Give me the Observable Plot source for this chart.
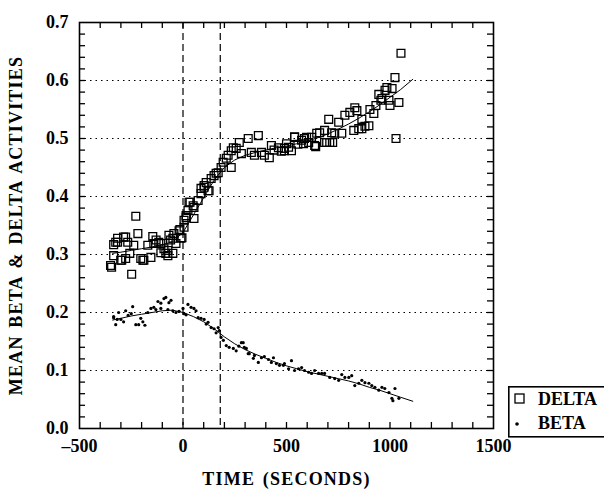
<!DOCTYPE html>
<html>
<head>
<meta charset="utf-8">
<script src="https://cdn.jsdelivr.net/npm/d3@7"></script>
<script src="https://cdn.jsdelivr.net/npm/@observablehq/plot@0.6"></script>
<style>
  html, body { margin: 0; padding: 0; background: white; overflow: hidden; }
  #wrap { position: relative; width: 604px; height: 490px; }
  #legend { position: absolute; left: 508px; top: 386px; }
  svg text { font-family: "Liberation Serif", "DejaVu Serif", serif; font-weight: bold; }
  [aria-label="x-axis label"] text, [aria-label="y-axis label"] text { letter-spacing: 1.2px; word-spacing: 2px; }
</style>
</head>
<body>
<div id="wrap"></div>
<script>
// Tick values
const xTickLabels = [-500, 0, 500, 1000, 1500];
const yTickLabels = [0, 0.1, 0.2, 0.3, 0.4, 0.5, 0.6, 0.7];
const xMinorTicks = [-400,-300,-200,-100,0,100,200,300,400,500,600,700,800,900,1000,1100,1200,1300,1400];
const yMinorTicks = [0.02,0.04,0.06,0.08,0.1,0.12,0.14,0.16,0.18,0.2,0.22,0.24,0.26,0.28,0.3,0.32,0.34,0.36,0.38,0.4,0.42,0.44,0.46,0.48,0.5,0.52,0.54,0.56,0.58,0.6,0.62,0.64,0.66,0.68];
const gridLevels = [0.1, 0.2, 0.3, 0.4, 0.5, 0.6];
const eventTimes = [0, 180];

// DELTA observations (time s, activity)
const deltaTime = [-350,-345,-335,-335,-325,-316,-316,-301,-296,-287,-277,-277,-267,-257,-248,-238,-228,-218,-204,-194,-189,-170,-155,-146,-141,-130,-117,-107,-107,-92,-83,-73,-73,-68,-60,-49,-49,-44,-34,-19,-15,-10,-5,
  5,5,15,15,24,29,34,49,53,53,73,87,87,102,102,112,121,126,136,150,160,170,184,194,209,218,233,233,243,257,272,282,315,330,345,364,379,393,417,427,440,461,475,490,490,500,510,524,539,539,555,573,582,587,597,607,621,636,641,646,660,684,684,694,704,709,718,723,733,752,767,782,806,825,830,840,849,864,864,879,898,903,922,932,946,956,961,976,985,995,1000,1010,1024,1029,1043,1053];
const deltaValue = [0.281,0.278,0.298,0.317,0.321,0.328,0.321,0.29,0.29,0.330,0.293,0.33,0.321,0.302,0.266,0.316,0.366,0.336,0.293,0.29,0.29,0.316,0.295,0.331,0.319,0.325,0.321,0.303,0.319,0.31,0.302,0.298,0.307,0.333,0.325,0.302,0.328,0.336,0.319,0.341,0.343,0.328,0.329,
  0.347,0.359,0.364,0.367,0.376,0.39,0.39,0.384,0.362,0.381,0.393,0.405,0.414,0.416,0.419,0.424,0.41,0.41,0.431,0.436,0.44,0.441,0.45,0.459,0.466,0.471,0.479,0.45,0.484,0.483,0.493,0.474,0.50,0.476,0.471,0.505,0.476,0.471,0.467,0.488,0.48,0.484,0.478,0.483,0.479,0.491,0.485,0.479,0.502,0.503,0.49,0.497,0.491,0.5,0.502,0.493,0.502,0.488,0.486,0.509,0.51,0.514,0.493,0.493,0.533,0.493,0.51,0.493,0.509,0.528,0.509,0.540,0.545,0.514,0.553,0.548,0.517,0.517,0.533,0.521,0.522,0.55,0.543,0.557,0.576,0.566,0.569,0.583,0.588,0.566,0.557,0.586,0.605,0.50,0.562,0.647];

// BETA observations
const betaTime = [-335,-335,-325,-318,-311,-300,-287,-277,-265,-250,-243,-228,-214,-204,-194,-184,-170,-155,-141,-131,-121,-107,-107,-92,-83,-73,-68,-58,-49,-34,-19,0,5,15,24,39,53,63,73,87,102,112,121,136,150,160,170,175,184,195,209,223,243,257,270,282,291,296,306,315,320,340,345,364,379,393,413,427,437,451,466,485,490,510,524,539,558,573,587,607,621,636,655,670,684,709,733,752,767,782,801,815,830,849,864,879,898,912,927,946,961,975,995,1009,1014,1024,1043];
const betaValue = [0.191,0.193,0.179,0.188,0.2,0.188,0.184,0.203,0.195,0.198,0.21,0.179,0.179,0.19,0.184,0.178,0.2,0.207,0.209,0.205,0.219,0.216,0.207,0.224,0.226,0.205,0.217,0.221,0.203,0.2,0.202,0.207,0.198,0.196,0.214,0.209,0.207,0.203,0.191,0.19,0.188,0.18,0.183,0.174,0.172,0.165,0.174,0.169,0.157,0.152,0.143,0.14,0.138,0.134,0.142,0.148,0.148,0.14,0.138,0.129,0.129,0.121,0.126,0.114,0.122,0.124,0.119,0.114,0.122,0.112,0.109,0.109,0.112,0.103,0.117,0.1,0.103,0.105,0.1,0.097,0.095,0.1,0.095,0.095,0.095,0.088,0.086,0.083,0.093,0.088,0.088,0.091,0.074,0.078,0.083,0.079,0.078,0.074,0.071,0.066,0.071,0.069,0.062,0.052,0.048,0.069,0.052];

// Smoothed fits
const fitTime = [-340,-300,-250,-200,-150,-100,-50,0,50,100,150,200,250,300,350,400,450,500,550,600,650,700,750,800,850,900,950,1000,1050,1110];
const deltaFit = [0.302,0.304,0.307,0.310,0.313,0.317,0.322,0.338,0.368,0.398,0.428,0.450,0.463,0.471,0.476,0.480,0.484,0.487,0.491,0.496,0.501,0.508,0.516,0.525,0.535,0.546,0.558,0.571,0.584,0.602];
const betaFit = [0.187,0.190,0.194,0.197,0.200,0.203,0.204,0.200,0.193,0.184,0.172,0.158,0.146,0.136,0.128,0.121,0.114,0.108,0.103,0.098,0.094,0.090,0.086,0.082,0.077,0.071,0.066,0.060,0.054,0.047];

const delta = deltaTime.map((t, i) => ({t, v: deltaValue[i]}));
const beta = betaTime.map((t, i) => ({t, v: betaValue[i]}));
const dFit = fitTime.map((t, i) => ({t, v: deltaFit[i]}));
const bFit = fitTime.map((t, i) => ({t, v: betaFit[i]}));

const frameH = 490 - 22 - 62;
const frameW = 604 - 79 - 111;

const chart = Plot.plot({
  width: 604, height: 490,
  marginLeft: 79, marginRight: 111, marginTop: 22, marginBottom: 62,
  x: {domain: [-500, 1500]},
  y: {domain: [0, 0.7]},
  style: {fontFamily: "Liberation Serif", fontWeight: "bold", fontSize: "18px", background: "white", color: "black", overflow: "visible"},
  marks: [
    Plot.ruleY(gridLevels, {stroke: "black", strokeWidth: 1.2, strokeDasharray: "1.5,4"}),
    Plot.ruleX(eventTimes, {stroke: "black", strokeWidth: 1.2, strokeDasharray: "7,4"}),
    Plot.tickX(xMinorTicks, {x: d => d, insetTop: frameH - 6, stroke: "black", strokeWidth: 1.3}),
    Plot.tickX(xMinorTicks, {x: d => d, insetBottom: frameH - 6, stroke: "black", strokeWidth: 1.3}),
    Plot.tickY(yMinorTicks, {y: d => d, insetRight: frameW - 6, stroke: "black", strokeWidth: 1.3}),
    Plot.tickY(yMinorTicks, {y: d => d, insetLeft: frameW - 6, stroke: "black", strokeWidth: 1.3}),
    Plot.frame({stroke: "black", strokeWidth: 1.6}),
    Plot.axisX({ticks: xTickLabels, tickSize: 0, tickPadding: 11, tickFormat: d => d < 0 ? "\u2013" + Math.abs(d) : String(d),
      label: "TIME (SECONDS)", labelAnchor: "center", labelOffset: 56, labelArrow: "none"}),
    Plot.axisY({ticks: yTickLabels, tickSize: 0, tickPadding: 11, tickFormat: ".1f",
      label: "MEAN BETA & DELTA ACTIVITIES", labelAnchor: "center", labelOffset: 70, labelArrow: "none"}),
    Plot.line(dFit, {x: "t", y: "v", stroke: "black", strokeWidth: 1}),
    Plot.line(bFit, {x: "t", y: "v", stroke: "black", strokeWidth: 1}),
    Plot.dot(delta, {x: "t", y: "v", symbol: "square", r: 4.4, stroke: "black", strokeWidth: 1.3, fill: "none"}),
    Plot.dot(beta, {x: "t", y: "v", r: 1.6, fill: "black", stroke: "none"})
  ]
});

const wrap = document.getElementById("wrap");
wrap.appendChild(chart);

// Legend
const legend = document.createElement("div");
legend.id = "legend";
legend.innerHTML = `<svg width="110" height="52" style="display:block;overflow:visible">
  <rect x="0.8" y="0.8" width="120" height="50" fill="white" stroke="black" stroke-width="1.6"/>
  <rect x="7" y="8" width="9" height="9" fill="none" stroke="black" stroke-width="1.3"/>
  <text x="30" y="19" font-size="18" font-family="Liberation Serif" font-weight="bold">DELTA</text>
  <circle cx="9" cy="38" r="1.8" fill="black"/>
  <text x="30" y="43" font-size="18" font-family="Liberation Serif" font-weight="bold">BETA</text>
</svg>`;
wrap.appendChild(legend);
</script>
</body>
</html>
